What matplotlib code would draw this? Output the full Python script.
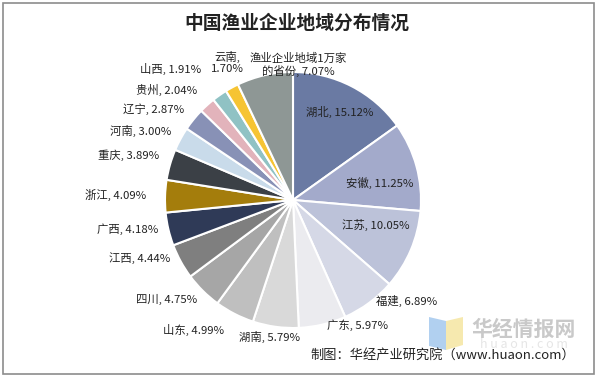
import numpy as np
import matplotlib
matplotlib.use("Agg")
import matplotlib.pyplot as plt
from matplotlib.patches import Rectangle, Polygon

plt.rcParams['font.family'] = ['Noto Sans CJK SC', 'DejaVu Sans']

# ── data ─────────────────────────────────────────────
regions = ["湖北", "安徽", "江苏", "福建", "广东", "湖南", "山东", "四川", "江西",
           "广西", "浙江", "重庆", "河南", "辽宁", "贵州", "山西", "云南",
           "渔业企业地域1万家\n的省份"]
shares = [15.12, 11.25, 10.05, 6.89, 5.97, 5.79, 4.99, 4.75, 4.44,
          4.18, 4.09, 3.89, 3.00, 2.87, 2.04, 1.91, 1.70, 7.07]

colors = ["#6a7aa3", "#a3aacb", "#bcc2d9", "#d5d8e6", "#ebebef", "#d9d9d9",
          "#bfbfbf", "#a6a6a6", "#7f7f7f", "#2f3a57", "#a47d0c", "#3b4046",
          "#c9dbea", "#8891b6", "#e2b3bb", "#90c2c4", "#f6c433", "#8e9795"]

# label placement: (radius, angle shift in degrees)
label_pos = [(0.78, -1), (0.69, -4), (0.68, 6), (1.19, 12), (1.10, 14),
             (1.085, -2), (1.28, -10), (1.26, -7), (1.28, -8), (1.31, -3),
             (1.39, 0), (1.33, 1), (1.31, 4), (1.30, 6), (1.31, 7),
             (1.40, 8), (1.19, -3), (1.06, -15)]

W, H = 597, 377
cx, cy, R = 293, 177, 128   # pie centre (px from bottom-left) and radius

fig = plt.figure(figsize=(W / 100, H / 100), dpi=100)
ax = fig.add_axes([0, 0, 1, 1])

wedges, _ = ax.pie(shares, colors=colors, startangle=90, counterclock=False,
                   radius=1, wedgeprops=dict(edgecolor="white", linewidth=1.5))
ax.set_xlim(-cx / R, (W - cx) / R)
ax.set_ylim(-cy / R, (H - cy) / R)
ax.axis("off")

# labels
for w, name, val, (r, shift) in zip(wedges, regions, shares, label_pos):
    ang = np.deg2rad((w.theta1 + w.theta2) / 2 + shift)
    x, y = r * np.cos(ang), r * np.sin(ang)
    if "\n" in name:
        first, second = name.split("\n")
        txt = f"{first}\n{second}, {val:.2f}%"
    elif name == "云南":
        txt = f"{name},\n{val:.2f}%"
    else:
        txt = f"{name}, {val:.2f}%"
    ax.text(x, y, txt, ha="center", va="center", fontsize=8.2,
            color="#222222", linespacing=1.1)

# title
fig.text(0.497, 0.938, "中国渔业企业地域分布情况", ha="center", va="center",
         fontsize=13.5, fontweight="bold", color="#222222")

# watermark
wm = fig.add_axes([0, 0, 1, 1], zorder=-1)
wm.set_xlim(0, W)
wm.set_ylim(0, H)
wm.axis("off")
wm.add_patch(Polygon([[429, 60], [446, 56], [446, 27], [429, 31]],
                     closed=True, color="#a9cbef", alpha=0.9, lw=0))
wm.add_patch(Polygon([[446, 56], [463, 60], [463, 32], [446, 27]],
                     closed=True, color="#f6e7a6", alpha=0.9, lw=0))
wm.text(524, 48, "华经情报网", ha="center", va="center", fontsize=15,
        fontweight="bold", color="#c9c9c9")
wm.text(524, 32, "h u a o n . c o m", ha="center", va="center", fontsize=9,
        color="#e6e6e6")

# footer
fig.text(0.742, 0.058, "制图：华经产业研究院（www.huaon.com）", ha="center",
         va="center", fontsize=9.5, color="#222222")

# frame
fig.patches.append(Rectangle((3 / W, 3 / H), (W - 6) / W, (H - 6) / H,
                             transform=fig.transFigure, fill=False,
                             edgecolor="#8c8c8c", linewidth=1.2))

fig.savefig("out.png", dpi=100)
